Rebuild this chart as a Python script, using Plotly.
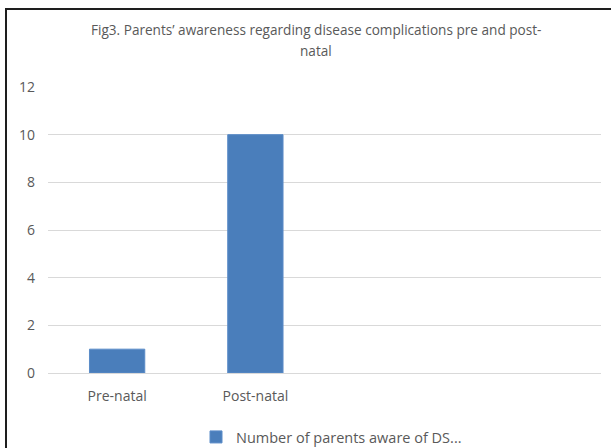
import plotly.graph_objects as go

# Chart data
categories = ["Pre-natal", "Post-natal"]
aware_counts = [1, 10]
series_name = "Number of parents aware of DS..."
y_ticks = [0, 2, 4, 6, 8, 10, 12]
title_lines = [
    "Fig3. Parents’ awareness regarding disease complications pre and post-",
    "natal",
]

W, H = 611, 448
L, R, T, B = 48, 10, 87, 75
plot_w = W - L - R
plot_h = H - T - B


def px_x(px):
    return (px - L) / plot_w


def px_y(py):
    return (H - B - py) / plot_h


font_family = "Open Sans, Noto Sans, sans-serif"
grey = "#595959"

fig = go.Figure()
fig.add_trace(go.Bar(
    x=list(range(len(categories))),
    y=aware_counts,
    name=series_name,
    width=0.4,
    marker=dict(color="#4A7EBB", line=dict(color="#5B8CC8", width=1)),
    showlegend=True,
))

# Two-line chart title
title_ann = [
    dict(
        text=line, xref="paper", yref="paper",
        x=px_x(316), y=px_y(yc), xanchor="center", yanchor="middle",
        showarrow=False,
        font=dict(family=font_family, size=13.6, color=grey),
    )
    for line, yc in zip(title_lines, [30, 50])
]

fig.update_layout(
    width=W, height=H,
    margin=dict(l=L, r=R, t=T, b=B, autoexpand=False),
    paper_bgcolor="white",
    plot_bgcolor="white",
    font=dict(family=font_family, size=14, color=grey),
    annotations=title_ann,
    xaxis=dict(
        range=[-0.5, 3.5],
        tickvals=list(range(len(categories))),
        ticktext=categories,
        showgrid=False,
        zeroline=False,
        showline=True,
        linecolor="#d9d9d9",
        linewidth=1,
        ticks="",
        ticklabelstandoff=10,
        automargin=False,
        tickfont=dict(family=font_family, size=14, color=grey),
    ),
    yaxis=dict(
        range=[0, 12],
        tickvals=y_ticks,
        showgrid=True,
        gridcolor="#d9d9d9",
        gridwidth=1,
        zeroline=False,
        showline=False,
        ticks="",
        ticklabelstandoff=12,
        automargin=False,
        tickfont=dict(family=font_family, size=14, color=grey),
    ),
    legend=dict(
        orientation="h",
        xref="container", yref="container",
        x=196 / W, xanchor="left",
        y=1 - 437 / H, yanchor="middle",
        font=dict(family=font_family, size=14.5, color=grey),
        bgcolor="rgba(0,0,0,0)",
    ),
    shapes=[
        dict(
            type="rect", xref="paper", yref="paper",
            x0=px_x(6), x1=px_x(640), y0=px_y(470), y1=px_y(9),
            line=dict(color="#1e1e1e", width=2),
            fillcolor="rgba(0,0,0,0)",
            layer="above",
        )
    ],
)

fig.write_html("out.html")
